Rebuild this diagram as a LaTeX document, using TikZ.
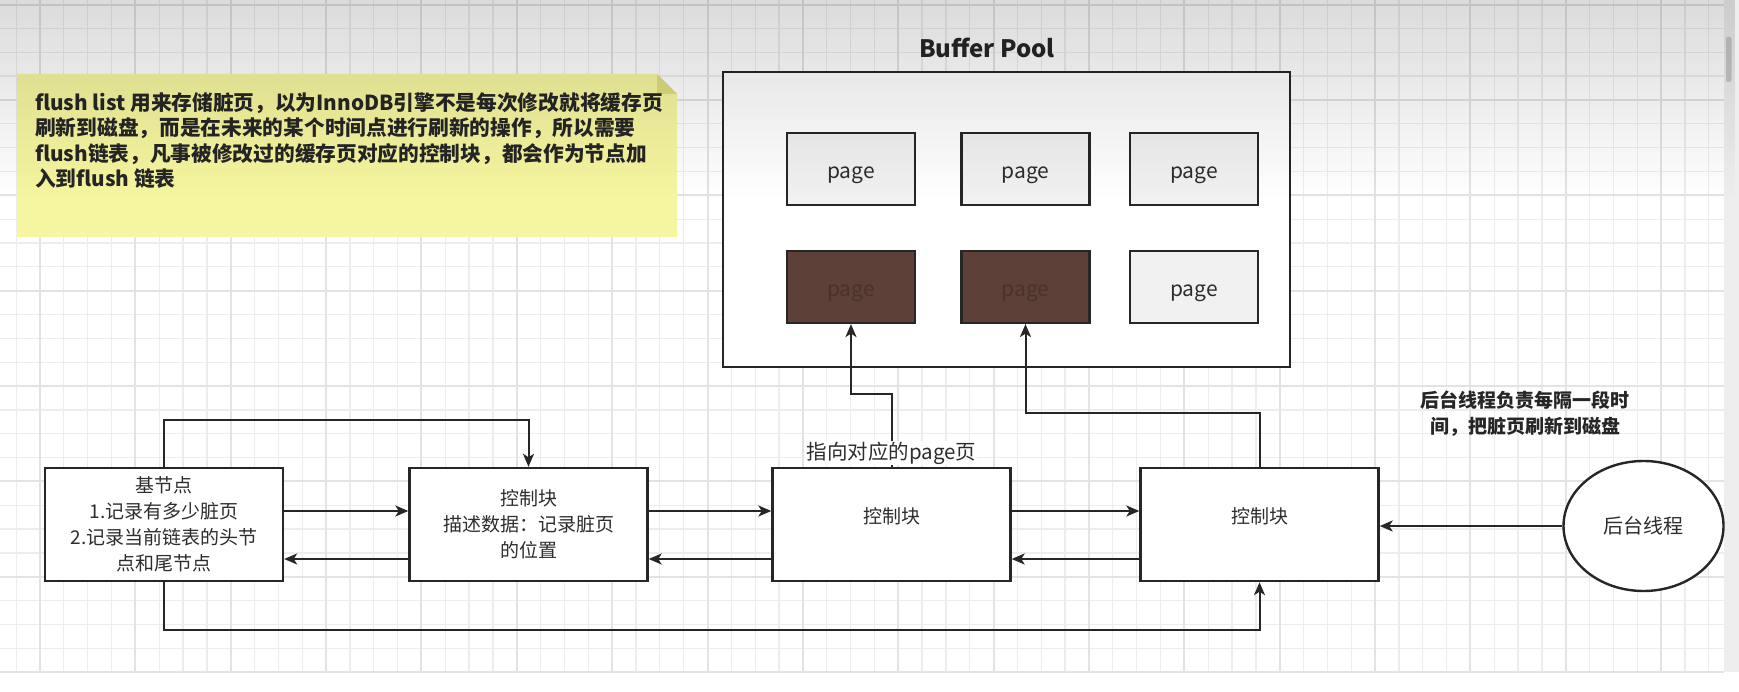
\documentclass[tikz,border=0pt]{standalone}
\usepackage{fontspec}
\setmainfont{Noto Sans CJK SC}
\usetikzlibrary{arrows.meta,shapes.geometric,fadings}
\definecolor{linec}{RGB}{38,38,38}
\definecolor{txtc}{RGB}{45,45,45}
\definecolor{notefill}{RGB}{246,246,160}
\definecolor{notefold}{RGB}{222,222,128}
\definecolor{pagefill}{RGB}{241,241,241}
\definecolor{darkpage}{RGB}{93,64,55}
\definecolor{darktxt}{RGB}{72,52,45}
\definecolor{stripc}{RGB}{238,238,238}
\definecolor{thumbc}{RGB}{200,200,200}
\newcommand\pagetxt{\raisebox{0pt}[\dimexpr\height+13pt\relax][\depth]{page}}
\newcommand\uptxt[1]{\raisebox{0pt}[\height][\dimexpr\depth+17pt\relax]{#1}}
\begin{document}
\begin{tikzpicture}[x=1pt,y=-1pt,
  box/.style={draw=linec,line width=2.4pt,fill=white,minimum width=238pt,minimum height=113pt,inner sep=0pt,align=center,text=txtc,font=\fontsize{19}{26}\selectfont},
  pagebox/.style={draw=linec,line width=2.2pt,fill=pagefill,minimum width=128pt,minimum height=72pt,inner sep=0pt,text=txtc,font=\fontsize{21}{24}\selectfont},
  dirty/.style={pagebox,fill=darkpage,text=darktxt},
  arr/.style={draw=linec,line width=2pt,-{Stealth[length=13pt,width=11pt,inset=3.5pt]}},
  lbl/.style={text=txtc,font=\fontsize{19}{26}\selectfont,align=center},
  minorgrid/.style={draw=black!7,line width=1.3pt},
  majorgrid/.style={draw=black!11,line width=2pt}
]
\useasboundingbox (0,0) rectangle (1739,692);
% background
\fill[white] (0,0) rectangle (1739,692);
\fill[stripc] (1724,0) rectangle (1739,672);
\fill[thumbc, rounded corners=2pt] (1726,37) rectangle (1731.5,82);
\begin{scope}
  \clip (0,0) rectangle (1724,673);
  \foreach \k in {-1,...,71} {
    \pgfmathsetmacro\xx{40+23.84*\k}
    \draw[minorgrid] (\xx,0) -- (\xx,673);
  }
  \foreach \k in {0,...,28} {
    \pgfmathsetmacro\yy{4.6+23.84*\k}
    \draw[minorgrid] (0,\yy) -- (1724,\yy);
  }
  \foreach \k in {0,...,17} {
    \pgfmathsetmacro\xx{40+95.36*\k}
    \draw[majorgrid] (\xx,0) -- (\xx,673);
  }
  \foreach \k in {0,...,7} {
    \pgfmathsetmacro\yy{4.6+95.36*\k}
    \draw[majorgrid] (0,\yy) -- (1724,\yy);
  }
\end{scope}

% note
\fill[notefill] (17,74) -- (657,74) -- (677,94) -- (677,237) -- (17,237) -- cycle;
\fill[notefold] (657,74) -- (677,94) -- (657,94) -- cycle;
\node[anchor=north west, inner sep=0pt, align=left, text=black!85,
      font=\bfseries\fontsize{20.7}{25.5}\selectfont] (note) at (35,92)
  {flush list 用来存储脏页，以为InnoDB引擎不是每次修改就将缓存页\\
   刷新到磁盘，而是在未来的某个时间点进行刷新的操作，所以需要\\
   flush链表，凡事被修改过的缓存页对应的控制块，都会作为节点加\\
   入到flush 链表};

% buffer pool
\node[font=\bfseries\fontsize{24}{28}\selectfont, text=black!85] (bptitle) at (987,48) {Buffer Pool};
\node[draw=linec, line width=2.4pt, fill=white, minimum width=567pt, minimum height=295pt, inner sep=0pt] (bp) at (1006.5,219.5) {};
\node[pagebox] (p1) at (851,169) {\pagetxt};
\node[pagebox] (p2) at (1025.5,169) {\pagetxt};
\node[pagebox] (p3) at (1194,169) {\pagetxt};
\node[dirty] (p4) at (851,287) {\pagetxt};
\node[dirty] (p5) at (1025.5,287) {\pagetxt};
\node[pagebox] (p6) at (1194,287) {\pagetxt};

% list nodes
\node[box] (base) at (164,524.5) {基节点\\1.记录有多少脏页\\2.记录当前链表的头节\\点和尾节点};
\node[box] (ctrl1) at (528.5,524.5) {控制块\\描述数据：记录脏页\\的位置};
\node[box] (ctrl2) at (891.5,524.5) {\uptxt{控制块}};
\node[box] (ctrl3) at (1259.5,524.5) {\uptxt{控制块}};
\node[ellipse, draw=linec, line width=2.4pt, fill=white, minimum width=160pt, minimum height=130pt, inner sep=0pt, text=txtc, font=\fontsize{20}{26}\selectfont] (bg) at (1643.5,526) {后台线程};

\node[lbl, text=black!85, font=\bfseries\fontsize{19}{26}\selectfont] (bglbl) at (1525,414) {后台线程负责每隔一段时\\间，把脏页刷新到磁盘};

% connectors
\coordinate (tl) at (164,420);
\coordinate (bl) at (164,630);
\coordinate (k1) at (891.5,394);
\coordinate (k2) at (1259.5,413);

\draw[arr] (base.north) -- (base.north |- tl) -| (ctrl1.north);
\draw[arr] (base.south) -- (base.south |- bl) -| (ctrl3.south);

\draw[arr] ([yshift=13.5pt]base.east) -- ([yshift=13.5pt]ctrl1.west);
\draw[arr] ([yshift=-34.5pt]ctrl1.west) -- ([yshift=-34.5pt]base.east);
\draw[arr] ([yshift=13.5pt]ctrl1.east) -- ([yshift=13.5pt]ctrl2.west);
\draw[arr] ([yshift=-34.5pt]ctrl2.west) -- ([yshift=-34.5pt]ctrl1.east);
\draw[arr] ([yshift=13.5pt]ctrl2.east) -- ([yshift=13.5pt]ctrl3.west);
\draw[arr] ([yshift=-34.5pt]ctrl3.west) -- ([yshift=-34.5pt]ctrl2.east);

\draw[arr] (ctrl2.north) -- (k1) -| (p4.south);
\draw[arr] (ctrl3.north) -- (k2) -| (p5.south);

\draw[arr] (bg.west) -- (ctrl3.east |- bg.west);

\node[lbl, fill=white, inner sep=1pt, font=\fontsize{20.5}{26}\selectfont] (ptr) at (891.5,453) {指向对应的page页};

% top shading of the screenshot
\fill[black, opacity=0.14, path fading=south] (0,0) rectangle (1739,200);
\end{tikzpicture}
\end{document}
